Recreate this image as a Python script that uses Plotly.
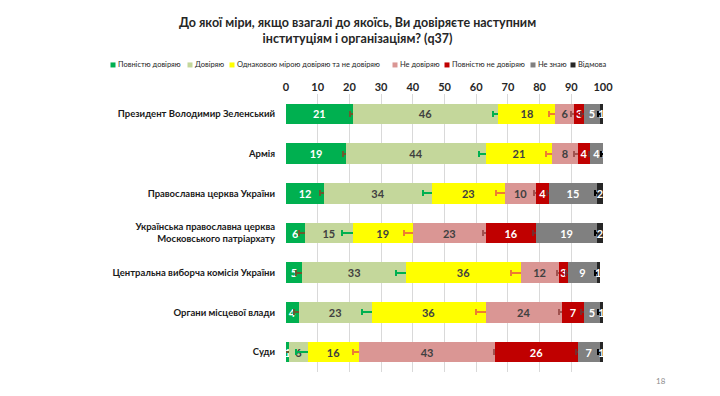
import plotly.graph_objects as go

categories = [
    "Президент Володимир Зеленський",
    "Армія",
    "Православна церква України",
    "Українська православна церква<br>Московського патріархату",
    "Центральна виборча комісія України",
    "Органи місцевої влади",
    "Суди",
]
series_names = ["Повністю довіряю", "Довіряю", "Однаковою мірою довіряю та не довіряю",
                "Не довіряю", "Повністю не довіряю", "Не знаю", "Відмова"]
fully_trust = [21, 19, 12, 6, 5, 4, 1]
trust = [46, 44, 34, 15, 33, 23, 6]
neutral = [18, 21, 23, 19, 36, 36, 16]
distrust = [6, 8, 10, 23, 12, 24, 43]
fully_distrust = [3, 4, 4, 16, 3, 7, 26]
dont_know = [5, 4, 15, 19, 9, 5, 7]
refuse = [1, 1, 2, 2, 1, 1, 1]

err_fully_trust = [0.7, 1.1, 1.3, 1.8, 2.0, 1.5, 1.5]
err_trust = [1.7, 2.1, 2.7, 3.2, 3.3, 3.0, 4.0]
err_neutral = [2.1, 2.0, 2.9, 2.9, 2.9, 3.0, 2.0]
err_distrust = [1.2, 1.0, 0.7, 0.8, 0.6, 0.8, 0.5]
err_fully_distrust = [0.8, 0.5, 0.7, 1.0, 0.6, 0.8, 0.6]
err_dont_know = [0.5, 0.5, 0.6, 0.6, 0.5, 0.5, 0.5]

values = [fully_trust, trust, neutral, distrust, fully_distrust, dont_know, refuse]
errors = [err_fully_trust, err_trust, err_neutral, err_distrust, err_fully_distrust, err_dont_know, None]
colors = ["#00B050", "#C4D79B", "#FFFF00", "#DA9694", "#C00000", "#808080", "#262626"]
text_colors = ["#FFFFFF", "#404040", "#404040", "#404040", "#FFFFFF", "#FFFFFF", "#FFFFFF"]
err_colors = ["#6B5A2E", "#00B050", "#ED7D31", "#A0524F", "#7B2C2C", "#000000", None]

FONT = "Lato"

fig = go.Figure()
for name, vals, err, col, tcol, ecol in zip(series_names, values, errors, colors, text_colors, err_colors):
    kw = {}
    if err is not None:
        kw["error_x"] = dict(type="data", array=err, visible=True, color=ecol, thickness=2, width=3)
    fig.add_trace(go.Bar(
        y=categories, x=vals, name=name, orientation="h",
        marker=dict(color=col, line=dict(width=0)),
        text=vals, texttemplate="<b>%{x}</b>", textposition="inside",
        insidetextanchor="middle", constraintext="none",
        textfont=dict(family=FONT, size=11, color=tcol),
        hoverinfo="skip",
        showlegend=False, **kw))

fig.update_layout(
    barmode="stack", bargap=0.48,
    width=720, height=396,
    margin=dict(l=286, r=117, t=94, b=24),
    paper_bgcolor="white", plot_bgcolor="white",
    uniformtext=dict(minsize=10, mode="show"),
    font=dict(family=FONT, color="#262626"),
)
fig.update_xaxes(range=[0, 100], dtick=10, side="top", showgrid=True, gridcolor="#D9D9D9",
                 gridwidth=1, zeroline=False, showline=False, ticks="", automargin=False,
                 tickfont=dict(family=FONT, size=11, color="#262626", weight="bold"))
fig.update_yaxes(autorange="reversed", showgrid=False, ticks="", ticklabelstandoff=10, automargin=False,
                 tickfont=dict(family=FONT, size=9.5, color="#1a1a1a", weight="bold"))

# title
fig.add_annotation(xref="paper", yref="paper", x=(357 - 286) / 317, y=1 + (94 - 31) / 277.5,
                   text="<b>До якої міри, якщо взагалі до якоїсь, Ви довіряєте наступним<br>інституціям і організаціям? (q37)</b>",
                   showarrow=False, font=dict(family=FONT, size=12.5, color="#262626"),
                   xanchor="center", yanchor="middle", align="center")

# manual legend
leg_x = [113, 190, 232, 395, 447, 533, 573]
for lx, name, col in zip(leg_x, series_names, colors):
    fig.add_shape(type="rect", xref="paper", yref="paper",
                  x0=(lx - 2.5 - 286) / 317, x1=(lx + 2.5 - 286) / 317,
                  y0=1 + (94 - 67.5) / 277.5, y1=1 + (94 - 62.5) / 277.5,
                  fillcolor=col, line=dict(width=0))
    fig.add_annotation(xref="paper", yref="paper", x=(lx + 3 - 286) / 317, y=1 + (94 - 65) / 277.5,
                       text=name, showarrow=False, xanchor="left", yanchor="middle",
                       font=dict(family=FONT, size=7.5, color="#262626"))

fig.add_annotation(xref="paper", yref="paper", x=(661 - 286) / 317, y=-(379 - 370) / 277.5,
                   text="18", showarrow=False, xanchor="center", yanchor="middle",
                   font=dict(family=FONT, size=8, color="#8C8C8C"))

fig.write_html("out.html", config={"displayModeBar": False})

with open("out.html", "r", encoding="utf-8") as f:
    html = f.read()
html = html.replace("<head>", "<head><style>html,body{margin:0;padding:0;overflow:hidden;}</style>", 1)
with open("out.html", "w", encoding="utf-8") as f:
    f.write(html)
